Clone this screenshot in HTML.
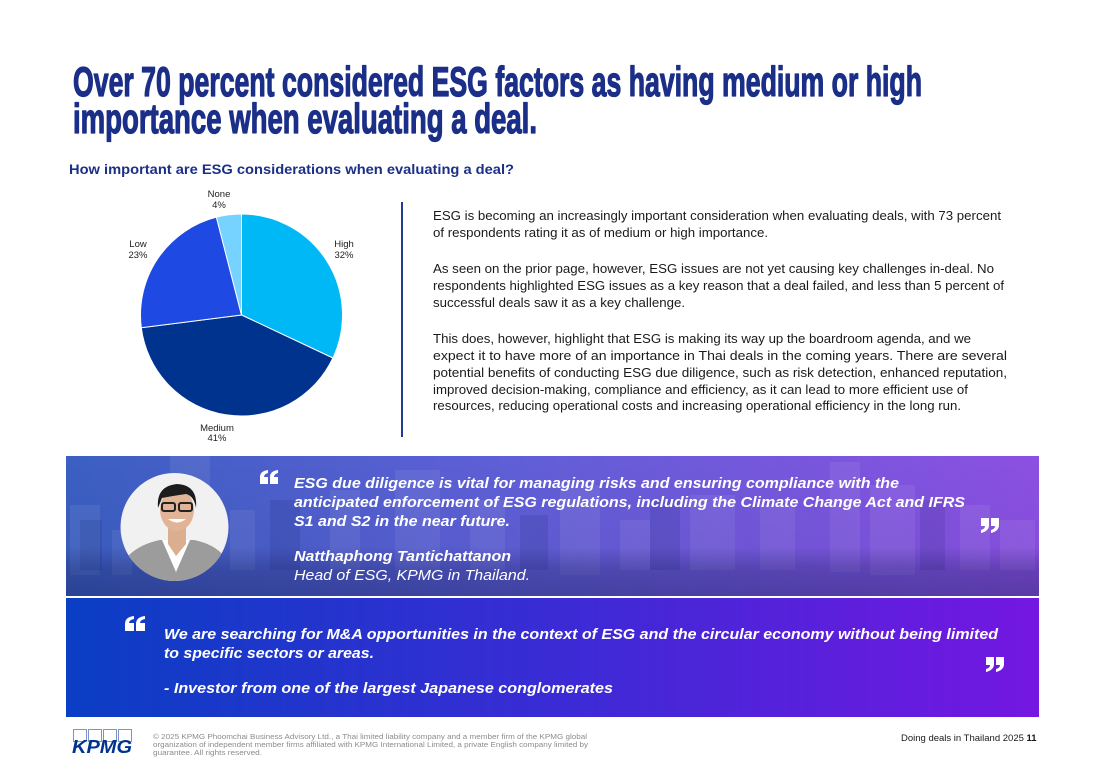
<!DOCTYPE html>
<html>
<head>
<meta charset="utf-8">
<style>
html,body{margin:0;padding:0;background:#fff;}
svg{display:block;}
text{font-family:"Liberation Sans",Arial,sans-serif;}
</style>
</head>
<body>
<svg width="1116" height="783" viewBox="0 0 1116 783" xmlns="http://www.w3.org/2000/svg">
<defs>
  <linearGradient id="b1" x1="0" y1="0" x2="1" y2="0">
    <stop offset="0" stop-color="#3b5fc2"/>
    <stop offset="0.45" stop-color="#5f5fd6"/>
    <stop offset="1" stop-color="#8c50e2"/>
  </linearGradient>
  <linearGradient id="b1v" x1="0" y1="0" x2="0" y2="1">
    <stop offset="0" stop-color="#101850" stop-opacity="0"/>
    <stop offset="0.65" stop-color="#101850" stop-opacity="0.05"/>
    <stop offset="0.8" stop-color="#101850" stop-opacity="0.3"/>
    <stop offset="1" stop-color="#101850" stop-opacity="0.4"/>
  </linearGradient>
  <linearGradient id="b2" x1="0" y1="0" x2="1" y2="0">
    <stop offset="0" stop-color="#0a3ec4"/>
    <stop offset="0.5" stop-color="#3a2bd5"/>
    <stop offset="1" stop-color="#7417e1"/>
  </linearGradient>
  <clipPath id="pc"><circle cx="174.5" cy="527" r="54"/></clipPath>
  <clipPath id="bc"><rect x="66" y="456" width="973" height="140"/></clipPath>
</defs>

<!-- Title -->
<g fill="#1b2f88" stroke="#1b2f88" stroke-width="1.3" stroke-linejoin="round">
<text x="73" y="96" font-size="42" font-weight="bold" textLength="849" lengthAdjust="spacingAndGlyphs">Over 70 percent considered ESG factors as having medium or high</text>
<text x="73" y="133" font-size="42" font-weight="bold" textLength="464" lengthAdjust="spacingAndGlyphs">importance when evaluating a deal.</text>
</g>

<!-- Subtitle -->
<text x="69" y="174" font-size="14" font-weight="bold" fill="#1b2f88" textLength="445" lengthAdjust="spacingAndGlyphs">How important are ESG considerations when evaluating a deal?</text>

<!-- Pie -->
<g stroke="#ffffff" stroke-width="1">
  <path d="M241.5,315 L241.5,214 A101,101 0 0 1 332.9,358 Z" fill="#00b8f5"/>
  <path d="M241.5,315 L332.9,358 A101,101 0 0 1 141.3,327.7 Z" fill="#00338d"/>
  <path d="M241.5,315 L141.3,327.7 A101,101 0 0 1 216.4,217.2 Z" fill="#1e49e2"/>
  <path d="M241.5,315 L216.4,217.2 A101,101 0 0 1 241.5,214 Z" fill="#76d2ff"/>
</g>
<g font-size="9.5" fill="#222" text-anchor="middle">
  <text x="219" y="197">None</text><text x="219" y="208">4%</text>
  <text x="138" y="247">Low</text><text x="138" y="258">23%</text>
  <text x="344" y="247">High</text><text x="344" y="258">32%</text>
  <text x="217" y="431">Medium</text><text x="217" y="441">41%</text>
</g>

<!-- Divider -->
<rect x="401" y="202" width="2" height="235" fill="#1f3d8f"/>

<!-- Body text -->
<g font-size="12.5" fill="#1a1a1a">
  <text x="433" y="220" textLength="568" lengthAdjust="spacingAndGlyphs">ESG is becoming an increasingly important consideration when evaluating deals, with 73 percent</text>
  <text x="433" y="237" textLength="335" lengthAdjust="spacingAndGlyphs">of respondents rating it as of medium or high importance.</text>
  <text x="433" y="273" textLength="561" lengthAdjust="spacingAndGlyphs">As seen on the prior page, however, ESG issues are not yet causing key challenges in-deal. No</text>
  <text x="433" y="290" textLength="571" lengthAdjust="spacingAndGlyphs">respondents highlighted ESG issues as a key reason that a deal failed, and less than 5 percent of</text>
  <text x="433" y="307" textLength="252" lengthAdjust="spacingAndGlyphs">successful deals saw it as a key challenge.</text>
  <text x="433" y="343" textLength="538" lengthAdjust="spacingAndGlyphs">This does, however, highlight that ESG is making its way up the boardroom agenda, and we</text>
  <text x="433" y="360" textLength="574" lengthAdjust="spacingAndGlyphs">expect it to have more of an importance in Thai deals in the coming years. There are several</text>
  <text x="433" y="377" textLength="574" lengthAdjust="spacingAndGlyphs">potential benefits of conducting ESG due diligence, such as risk detection, enhanced reputation,</text>
  <text x="433" y="394" textLength="535" lengthAdjust="spacingAndGlyphs">improved decision-making, compliance and efficiency, as it can lead to more efficient use of</text>
  <text x="433" y="410" textLength="528" lengthAdjust="spacingAndGlyphs">resources, reducing operational costs and increasing operational efficiency in the long run.</text>
</g>

<!-- Band 1 -->
<rect x="66" y="456" width="973" height="140" fill="url(#b1)"/>
<g clip-path="url(#bc)">
  <g fill="#ffffff" fill-opacity="0.07">
    <rect x="70" y="505" width="30" height="70"/>
    <rect x="112" y="530" width="20" height="45"/>
    <rect x="170" y="456" width="40" height="110"/>
    <rect x="230" y="510" width="25" height="60"/>
    <rect x="330" y="490" width="30" height="80"/>
    <rect x="395" y="470" width="45" height="100"/>
    <rect x="470" y="500" width="35" height="70"/>
    <rect x="560" y="485" width="40" height="90"/>
    <rect x="620" y="520" width="30" height="50"/>
    <rect x="690" y="495" width="45" height="75"/>
    <rect x="760" y="505" width="35" height="65"/>
    <rect x="830" y="462" width="30" height="110"/>
    <rect x="870" y="485" width="45" height="90"/>
    <rect x="960" y="505" width="30" height="65"/>
    <rect x="1000" y="520" width="35" height="50"/>
  </g>
  <g fill="#0c1a5a" fill-opacity="0.12">
    <rect x="80" y="520" width="22" height="50"/>
    <rect x="270" y="500" width="30" height="70"/>
    <rect x="520" y="515" width="28" height="55"/>
    <rect x="650" y="500" width="30" height="70"/>
    <rect x="920" y="500" width="25" height="70"/>
  </g>
  <rect x="66" y="456" width="973" height="140" fill="url(#b1v)"/>
</g>

<!-- Portrait -->
<g clip-path="url(#pc)">
  <rect x="118" y="470" width="114" height="114" fill="#f1f1f1"/>
  <path d="M122,584 L128,556 Q140,544 160,540 L194,540 Q214,544 224,556 L230,584 Z" fill="#9c9c9c"/>
  <path d="M162,540 L176,572 L190,540 Z" fill="#ffffff"/>
  <path d="M168,528 L186,528 L186,544 L176,556 L168,544 Z" fill="#dcae90"/>
  <ellipse cx="177" cy="510" rx="17" ry="21" fill="#e2b497"/>
  <path d="M158,508 Q156,486 177,484 Q198,485 196,508 Q194,496 186,494 Q172,496 162,498 Z" fill="#1c1c1c"/>
  <rect x="162" y="503" width="13" height="8" rx="2" fill="none" stroke="#222" stroke-width="2"/>
  <rect x="179" y="503" width="13" height="8" rx="2" fill="none" stroke="#222" stroke-width="2"/>
  <path d="M168,519 Q177,526 186,519 Z" fill="#ffffff"/>
</g>

<!-- Quote 1 -->
<g fill="#ffffff">
  <path d="M260,484 L260,477 Q260,471 268,470 L268,473 Q264,474 264,477 L268,477 L268,484 Z"/>
  <path d="M270,484 L270,477 Q270,471 278,470 L278,473 Q274,474 274,477 L278,477 L278,484 Z"/>
  <path d="M981,518 L989,518 L989,525 Q989,531 981,533 L981,530 Q985,529 985,526 L981,526 Z"/>
  <path d="M991,518 L999,518 L999,525 Q999,531 991,533 L991,530 Q995,529 995,526 L991,526 Z"/>
</g>
<g font-size="15" font-style="italic" fill="#ffffff">
  <text x="294" y="488" font-weight="bold" textLength="605" lengthAdjust="spacingAndGlyphs">ESG due diligence is vital for managing risks and ensuring compliance with the</text>
  <text x="294" y="507" font-weight="bold" textLength="671" lengthAdjust="spacingAndGlyphs">anticipated enforcement of ESG regulations, including the Climate Change Act and IFRS</text>
  <text x="294" y="526" font-weight="bold" textLength="216" lengthAdjust="spacingAndGlyphs">S1 and S2 in the near future.</text>
  <text x="294" y="561" font-weight="bold" textLength="217" lengthAdjust="spacingAndGlyphs">Natthaphong Tantichattanon</text>
  <text x="294" y="580" textLength="236" lengthAdjust="spacingAndGlyphs">Head of ESG, KPMG in Thailand.</text>
</g>

<!-- Band 2 -->
<rect x="66" y="598" width="973" height="119" fill="url(#b2)"/>
<g fill="#ffffff">
  <path d="M125,631 L125,624 Q125,617 134,616 L134,619 Q129,620 129,623 L134,623 L134,631 Z"/>
  <path d="M136,631 L136,624 Q136,617 145,616 L145,619 Q140,620 140,623 L145,623 L145,631 Z"/>
  <path d="M986,657 L994,657 L994,664 Q994,670 986,672 L986,669 Q990,668 990,665 L986,665 Z"/>
  <path d="M996,657 L1004,657 L1004,664 Q1004,670 996,672 L996,669 Q1000,668 1000,665 L996,665 Z"/>
</g>
<g font-size="15" font-style="italic" font-weight="bold" fill="#ffffff">
  <text x="164" y="639" textLength="834" lengthAdjust="spacingAndGlyphs">We are searching for M&amp;A opportunities in the context of ESG and the circular economy without being limited</text>
  <text x="164" y="658" textLength="210" lengthAdjust="spacingAndGlyphs">to specific sectors or areas.</text>
  <text x="164" y="693" textLength="449" lengthAdjust="spacingAndGlyphs">-  Investor from one of the largest Japanese conglomerates</text>
</g>

<!-- Footer logo -->
<g fill="none" stroke="#7f93c8" stroke-width="1">
  <rect x="73.5" y="729.5" width="13" height="12"/>
  <rect x="88.5" y="729.5" width="13" height="12"/>
  <rect x="103.5" y="729.5" width="13" height="12"/>
  <rect x="118.5" y="729.5" width="13" height="12"/>
</g>
<text x="72" y="753" font-size="18" font-weight="bold" font-style="italic" fill="#00338d" textLength="60" lengthAdjust="spacingAndGlyphs">KPMG</text>

<!-- Copyright -->
<g font-size="7.5" fill="#8c8c8c">
  <text x="153" y="739" textLength="434" lengthAdjust="spacingAndGlyphs">© 2025 KPMG Phoomchai Business Advisory Ltd., a Thai limited liability company and a member firm of the KPMG global</text>
  <text x="153" y="747" textLength="435" lengthAdjust="spacingAndGlyphs">organization of independent member firms affiliated with KPMG International Limited, a private English company limited by</text>
  <text x="153" y="755" textLength="109" lengthAdjust="spacingAndGlyphs">guarantee. All rights reserved.</text>
</g>

<text x="901" y="741" font-size="9.5" fill="#1a1a1a">Doing deals in Thailand 2025 <tspan font-weight="bold">11</tspan></text>
</svg>
</body>
</html>
